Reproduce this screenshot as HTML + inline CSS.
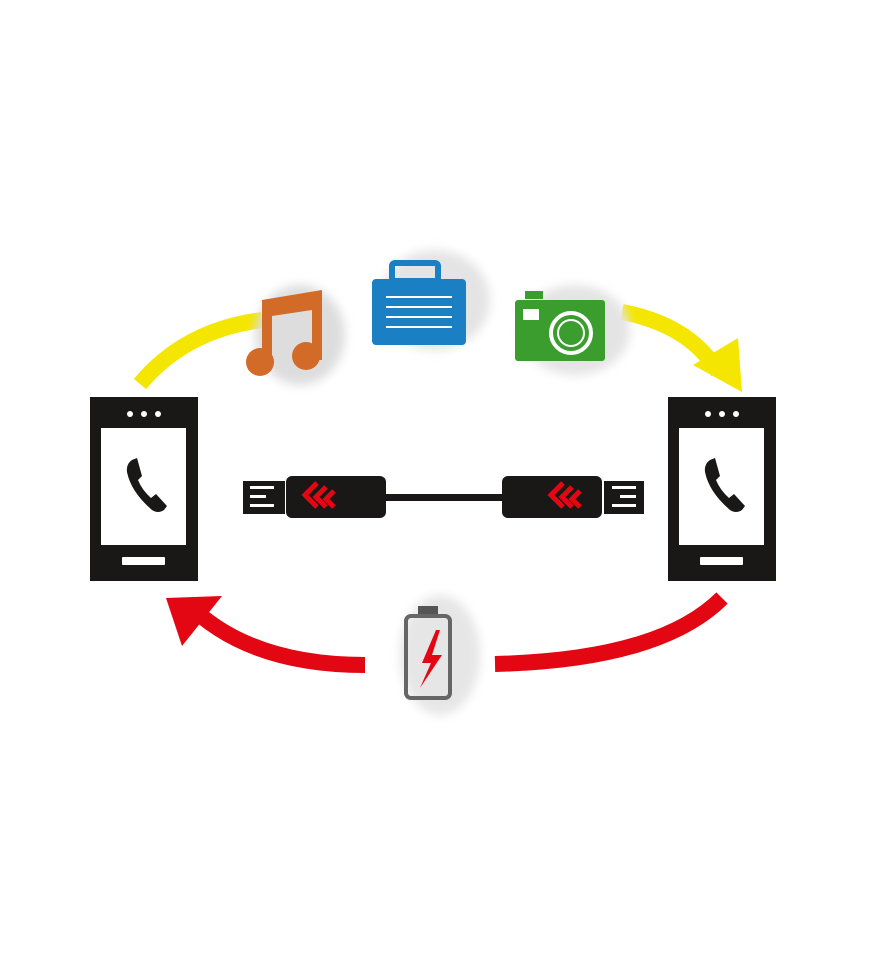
<!DOCTYPE html>
<html><head><meta charset="utf-8"><style>html,body{margin:0;padding:0;background:#fff}svg{display:block}</style></head><body>
<svg width="870" height="966" viewBox="0 0 870 966" xmlns="http://www.w3.org/2000/svg">
<defs>
<filter id="sh" x="-30%" y="-30%" width="160%" height="160%"><feGaussianBlur stdDeviation="5"/></filter>
<g id="chev" fill="none" stroke="#e30613" stroke-width="5" stroke-linejoin="miter">
<polyline points="12,0 0,12 12,24"/><polyline points="21,4 11,14 21,24"/><polyline points="29,8 21,16 29,24"/>
</g>
</defs>
<!-- yellow arcs -->
<path d="M140 384 Q185 330 262 320" fill="none" stroke="#f4e600" stroke-width="16"/>
<path d="M622 312 Q690 325 718 372" fill="none" stroke="#f4e600" stroke-width="16"/>
<polygon points="693,365 738,338 742,392" fill="#f4e600"/>
<!-- red arcs -->
<path d="M722 598 Q660 660 495 664" fill="none" stroke="#e30613" stroke-width="16"/>
<path d="M365 665 Q260 665 200 615" fill="none" stroke="#e30613" stroke-width="16"/>
<polygon points="166,598 222,596 182,646" fill="#e30613"/>
<!-- shadows -->
<ellipse cx="300" cy="335" rx="45" ry="50" fill="#ddd" filter="url(#sh)"/>
<ellipse cx="435" cy="300" rx="55" ry="50" fill="#e4e4e4" filter="url(#sh)"/>
<ellipse cx="575" cy="330" rx="55" ry="45" fill="#e4e4e4" filter="url(#sh)"/>
<ellipse cx="440" cy="655" rx="40" ry="60" fill="#e6e6e6" filter="url(#sh)"/>
<!-- music note -->
<g fill="#d26a28">
<path d="M262 300 L322 290 L322 360 L312 360 L312 310 L272 316 L272 358 L262 358Z"/>
<circle cx="260" cy="362" r="14"/><circle cx="306" cy="356" r="14"/>
</g>
<!-- briefcase -->
<rect x="392" y="263" width="46" height="18" rx="3" fill="none" stroke="#1b7fc4" stroke-width="6"/>
<rect x="372" y="279" width="94" height="66" rx="4" fill="#1b7fc4"/>
<g stroke="#fff" stroke-width="2"><line x1="386" y1="297" x2="452" y2="297"/><line x1="386" y1="307" x2="452" y2="307"/><line x1="386" y1="317" x2="452" y2="317"/><line x1="386" y1="327" x2="452" y2="327"/></g>
<!-- camera -->
<rect x="525" y="291" width="18" height="8" fill="#3a9d2e"/>
<rect x="515" y="300" width="90" height="61" rx="3" fill="#3a9d2e"/>
<rect x="523" y="309" width="16" height="11" fill="#fff"/>
<circle cx="571" cy="333" r="20" fill="none" stroke="#fff" stroke-width="4"/>
<circle cx="571" cy="333" r="13" fill="none" stroke="#fff" stroke-width="2"/>
<!-- phones -->
<g id="ph">
<rect x="90" y="397" width="108" height="184" fill="#1a1717"/>
<rect x="101" y="428" width="85" height="117" fill="#fff"/>
<circle cx="130" cy="414" r="3" fill="#fff"/><circle cx="144" cy="414" r="3" fill="#fff"/><circle cx="158" cy="414" r="3" fill="#fff"/>
<rect x="122" y="557" width="43" height="8" rx="1" fill="#fff"/>
<path d="M132 460 Q126 464 127 472 Q131 492 152 510 Q158 514 164 510 L167 506 L156 494 L151 498 Q142 490 138 480 L142 476 L137 458Z" fill="#1a1717"/>
</g>
<use href="#ph" x="578"/>
<!-- cable -->
<rect x="243" y="481" width="42" height="33" fill="#1a1717"/>
<g fill="#fff"><rect x="250" y="486" width="24" height="3"/><rect x="250" y="495" width="16" height="3"/><rect x="250" y="504" width="24" height="3"/></g>
<rect x="286" y="476" width="100" height="42" rx="6" fill="#1a1717"/>
<rect x="380" y="494" width="126" height="7" fill="#1a1717"/>
<rect x="502" y="476" width="100" height="42" rx="6" fill="#1a1717"/>
<rect x="604" y="481" width="40" height="33" fill="#1a1717"/>
<g fill="#fff"><rect x="612" y="486" width="24" height="3"/><rect x="620" y="495" width="16" height="3"/><rect x="612" y="504" width="24" height="3"/></g>
<use href="#chev" x="305" y="483"/>
<use href="#chev" x="551" y="483"/>
<!-- battery -->
<rect x="418" y="606" width="20" height="8" fill="#555"/>
<rect x="406" y="616" width="44" height="82" rx="5" fill="none" stroke="#666" stroke-width="4"/>
<polygon points="436,630 422,663 431,663 420,688 442,655 432,655 440,630" fill="#e30613"/>
</svg>
</body></html>
